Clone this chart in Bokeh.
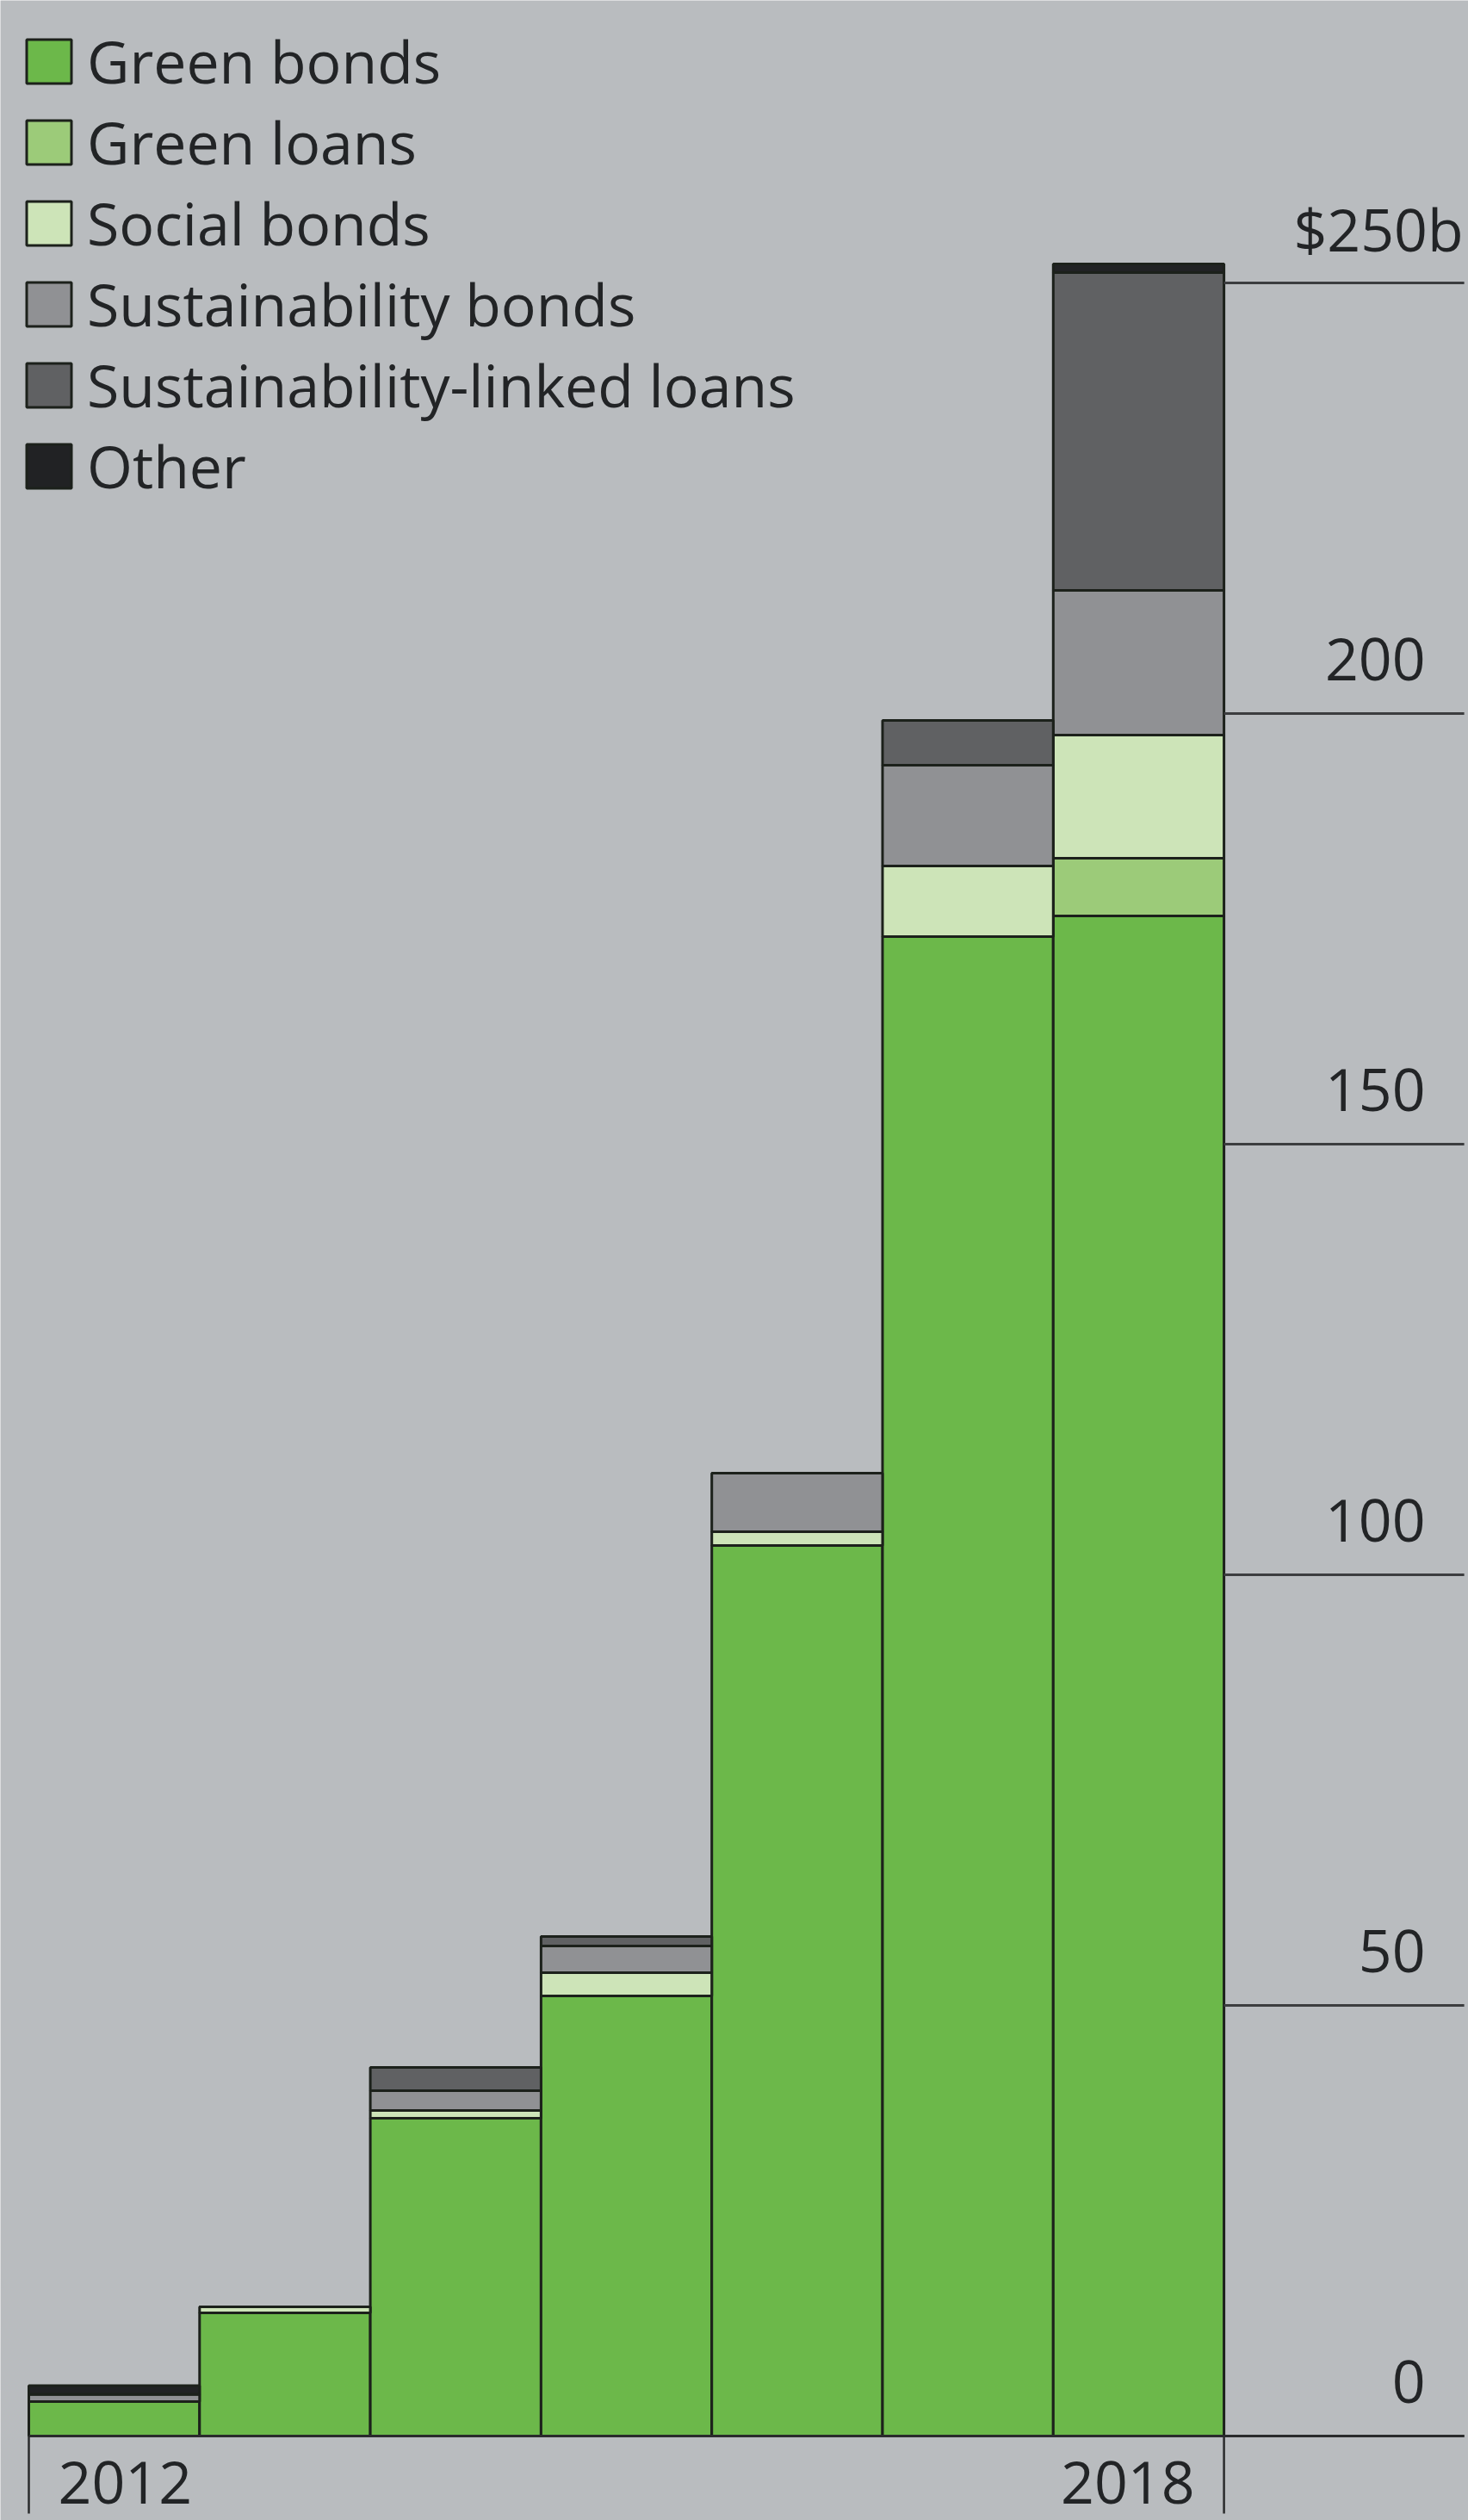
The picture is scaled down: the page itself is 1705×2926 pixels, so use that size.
from bokeh.plotting import figure
from bokeh.models import Range1d, ColumnDataSource
from bokeh.embed import file_html
from bokeh.resources import INLINE
from bokeh.core.properties import value

# ---- data (US$ billions) ----
years = [2012, 2013, 2014, 2015, 2016, 2017, 2018]
green_bonds = [4.0, 14.3, 36.9, 51.1, 103.4, 174.1, 176.5]
green_loans = [0.0, 0.0, 0.0, 0.0, 0.0, 0.0, 6.7]
social_bonds = [0.0, 0.7, 0.9, 2.7, 1.6, 8.2, 14.3]
sustainability_bonds = [0.85, 0.0, 2.3, 3.1, 6.8, 11.7, 16.8]
sustainability_linked_loans = [0.0, 0.0, 2.7, 1.1, 0.0, 5.2, 36.9]
other = [1.0, 0.0, 0.0, 0.0, 0.0, 0.0, 1.0]

series_names = ["Green bonds", "Green loans", "Social bonds",
                "Sustainability bonds", "Sustainability-linked loans", "Other"]
series_keys = ["green_bonds", "green_loans", "social_bonds",
               "sustainability_bonds", "sustainability_linked_loans", "other"]
series_colors = ["#6cb84a", "#9ccb79", "#cde4b8", "#909194", "#606163", "#212224"]

tick_values = [0, 50, 100, 150, 200, 250]
tick_labels = ["0", "50", "100", "150", "200", "$250b"]
year_labels = ["2012", "2018"]

BG = "#b9bcbf"
INK = "#222426"
FONT = "Open Sans"
W, H = 1705, 2926
BAR_PX = 198.3          # pixels per year
LEFT_PX = 33            # left edge of first bar
PX_PER_UNIT = 10.0
BASE_PX = 2828

source = ColumnDataSource(dict(
    years=years, green_bonds=green_bonds, green_loans=green_loans,
    social_bonds=social_bonds, sustainability_bonds=sustainability_bonds,
    sustainability_linked_loans=sustainability_linked_loans, other=other))

x0 = years[0] - 0.5
x_start = x0 - LEFT_PX / BAR_PX
x_end = x0 + (W - LEFT_PX) / BAR_PX
y_start = -(H - BASE_PX) / PX_PER_UNIT
y_end = BASE_PX / PX_PER_UNIT

p = figure(width=W, height=H, output_backend="svg", toolbar_location=None,
           x_range=Range1d(x_start, x_end), y_range=Range1d(y_start, y_end),
           min_border=0, background_fill_color=BG, border_fill_color=BG,
           outline_line_color=None)
p.axis.visible = False
p.grid.visible = False

p.vbar_stack(series_keys, x="years", width=1.0, source=source,
             fill_color=series_colors, line_color="#1c211b", line_width=3,
             legend_label=series_names)

right_edge = years[-1] + 0.5
line_end = right_edge + 279 / BAR_PX

# gridlines on the right side
p.segment(x0=[right_edge] * len(tick_values), y0=tick_values,
          x1=[line_end] * len(tick_values), y1=tick_values,
          line_color="#3c3d3f", line_width=3)
# baseline
p.segment(x0=[x0], y0=[0], x1=[line_end], y1=[0],
          line_color="#2a2b2c", line_width=3)
# vertical ticks below baseline at both ends
p.segment(x0=[x0, right_edge], y0=[0, 0], x1=[x0, right_edge], y1=[-9, -9],
          line_color="#2a2b2c", line_width=2.5)

# y tick labels (sit above their gridlines, right aligned)
lab_x = right_edge + 234 / BAR_PX
lab_x_last = right_edge + 278 / BAR_PX
label_xs = [lab_x] * (len(tick_values) - 1) + [lab_x_last]
p.text(x=label_xs, y=tick_values, text=tick_labels, text_align="right",
       text_baseline="alphabetic", y_offset=-63, text_color=INK,
       text_font=value(FONT), text_font_size="68px")

# year labels
p.text(x=[x0], y=[0], text=[year_labels[0]], text_align="left",
       text_baseline="alphabetic", x_offset=34, y_offset=54, text_color=INK,
       text_font=value(FONT), text_font_size="68px")
p.text(x=[right_edge], y=[0], text=[year_labels[1]], text_align="right",
       text_baseline="alphabetic", x_offset=-34, y_offset=54, text_color=INK,
       text_font=value(FONT), text_font_size="68px")

lg = p.legend[0]
lg.location = "top_left"
lg.margin = 24
lg.padding = 0
lg.background_fill_alpha = 0
lg.border_line_color = None
lg.glyph_width = 65
lg.glyph_height = 64
lg.label_height = 64
lg.spacing = 1
lg.label_standoff = 12
lg.label_text_font = FONT
lg.label_text_font_size = "68px"
lg.label_text_color = INK

html = file_html(p, INLINE)
open("out.html", "w").write(html)
